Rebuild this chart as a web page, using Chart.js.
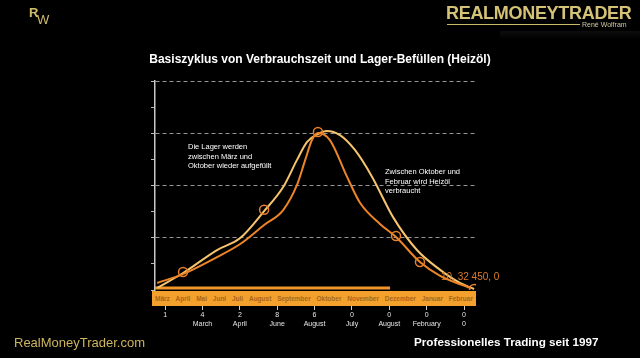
<!DOCTYPE html>
<html><head><meta charset="utf-8">
<script src="https://cdn.jsdelivr.net/npm/chart.js@4.4.0/dist/chart.umd.min.js"></script>
<style>
html,body{margin:0;padding:0;background:#000;}
#wrap{position:relative;width:640px;height:358px;background:#000;overflow:hidden;font-family:"Liberation Sans",Arial,sans-serif;}
canvas{position:absolute;left:0;top:0;}
.abs{position:absolute;white-space:nowrap;}
#band{position:absolute;left:152px;top:291px;width:324px;height:15px;background:#f3a02c;display:flex;justify-content:space-between;align-items:center;padding:0 3px;box-sizing:border-box;font-weight:bold;font-size:6.5px;color:#a9671b;}
</style></head><body>
<div id="wrap">
<canvas id="c" width="640" height="358"></canvas>
<div class="abs" style="left:0;top:52px;width:640px;text-align:center;color:#fff;font-weight:bold;font-size:12px;">Basiszyklus von Verbrauchszeit und Lager-Befüllen (Heizöl)</div>
<div class="abs" style="left:29px;top:5px;color:#d2bd6a;font-size:13px;font-weight:bold;">R</div>
<div class="abs" style="left:37px;top:12px;color:#d2bd6a;font-size:13px;">W</div>
<div class="abs" style="left:446px;top:3px;color:#d4c276;font-weight:bold;font-size:18px;letter-spacing:-0.3px;">REALMONEYTRADER</div>
<div class="abs" style="left:447px;top:24px;width:133px;height:1px;background:#cdb868;"></div>
<div class="abs" style="left:582px;top:21px;color:#cfc7a0;font-size:7px;">René Wolfram</div>
<div class="abs" style="left:500px;top:31px;width:140px;height:8px;background:linear-gradient(#0d0d0d,#000);"></div>
<div class="abs" style="left:188px;top:142px;color:#fff;font-size:7.5px;line-height:9.5px;">Die Lager werden<br>zwischen März und<br>Oktober wieder aufgefüllt</div>
<div class="abs" style="left:385px;top:167px;color:#fff;font-size:7.5px;line-height:9.5px;">Zwischen Oktober und<br>Februar wird Heizöl<br>verbraucht</div>
<div class="abs" style="left:441px;top:271px;width:58px;overflow:hidden;color:#dd7c2c;font-size:10px;">10, 32 450, 00</div>
<div id="band"></div>
<div class="abs" style="left:14px;top:335px;color:#cdb45e;font-size:13px;">RealMoneyTrader.com</div>
<div class="abs" style="left:414px;top:335px;color:#fff;font-weight:bold;font-size:11.7px;">Professionelles Trading seit 1997</div>
</div>
<script>
// ---- data ----
const bandMonths = ['März','April','Mai','Juni','Juli','August','September','Oktober','November','Dezember','Januar','Februar'];
const xTickNumbers = ['1','4','2','8','6','0','0','0','0'];
const xTickMonths = ['','March','April','June','August','July','August','February','0'];

const lightX = [-0.21, 0.48, 1.39, 2.01, 2.65, 3.16, 3.53, 3.80, 4.09, 4.33, 4.68, 5.08, 5.54, 6.10, 6.74, 7.36, 7.89, 8.27];
const lightY = [0.08, 0.65, 1.53, 1.99, 3.02, 3.94, 4.98, 5.67, 5.97, 6.09, 5.93, 5.36, 4.33, 2.79, 1.53, 0.77, 0.27, 0.04];

const darkX = [-0.21, 0.48, 1.39, 2.01, 2.65, 3.16, 3.53, 3.75, 3.93, 4.09, 4.41, 4.87, 5.22, 5.75, 6.18, 6.82, 7.36, 8.16];
const darkY = [0.27, 0.61, 1.26, 1.76, 2.49, 3.06, 4.02, 4.98, 5.74, 6.01, 5.74, 4.33, 3.33, 2.53, 2.03, 1.07, 0.54, 0.08];

const markerX = [0.48, 2.65, 4.09, 6.18, 6.82, 8.27];
const markerY = [0.69, 3.07, 6.05, 2.07, 1.07, 0.04];

const baseX = [-0.27, 6.02];
const baseY = [0.08, 0.08];

// ---- build ----
const pts = (xs, ys) => xs.map((x, i) => ({x: x, y: ys[i]}));
const band = document.getElementById('band');
bandMonths.forEach(m => { const s = document.createElement('span'); s.textContent = m; band.appendChild(s); });

const FONT = '"Liberation Sans", Arial, sans-serif';
new Chart(document.getElementById('c'), {
  type: 'line',
  data: {
    datasets: [
      {label: 'Punkte', data: pts(markerX, markerY), showLine: false, pointRadius: 4.5, pointBorderColor: '#e8802a', pointBackgroundColor: 'rgba(0,0,0,0)', pointBorderWidth: 1.5, order: 0},
      {label: 'Verbrauch', data: pts(darkX, darkY), borderColor: '#ec8428', borderWidth: 2, pointRadius: 0, cubicInterpolationMode: 'monotone', fill: false, order: 1},
      {label: 'Lager', data: pts(lightX, lightY), borderColor: '#f7c46e', borderWidth: 2, pointRadius: 0, cubicInterpolationMode: 'monotone', fill: false, order: 2},
      {label: 'Basis', data: pts(baseX, baseY), borderColor: '#f0952a', borderWidth: 3, pointRadius: 0, fill: false, order: 3}
    ]
  },
  options: {
    responsive: false,
    animation: false,
    layout: {padding: {left: 151, right: 164, top: 81, bottom: 22}},
    plugins: {legend: {display: false}, tooltip: {enabled: false}, title: {display: false}},
    scales: {
      x: {
        type: 'linear', position: 'bottom', min: -0.27, max: 8.32, weight: 1,
        afterBuildTicks: s => { s.ticks = xTickNumbers.map((_, i) => ({value: i})); },
        ticks: {color: '#e6e6e6', font: {size: 7, family: FONT, lineHeight: 1.35}, padding: 0, maxRotation: 0, autoSkip: false,
          callback: (v, i) => [xTickNumbers[i], xTickMonths[i]]},
        grid: {drawOnChartArea: false, drawTicks: true, tickLength: 4, tickColor: '#cfcfcf', color: '#cfcfcf'},
        border: {display: false},
        afterFit: s => { s.height = 30; }
      },
      band: {
        type: 'linear', position: 'bottom', min: 0, max: 1, weight: 0,
        ticks: {display: false}, grid: {display: false}, border: {display: false},
        afterFit: s => { s.height = 16; }
      },
      y: {
        min: 0, max: 8,
        ticks: {display: false, stepSize: 1},
        grid: {
          color: c => (c.tick && c.tick.value > 0 && c.tick.value % 2 === 0) ? 'rgba(200,200,200,0.75)' : 'rgba(0,0,0,0)',
          lineWidth: 1, drawTicks: true, tickLength: 4, tickColor: '#bdbdbd'
        },
        border: {display: true, color: '#c8c8c8', width: 1.5, dash: [4, 3]}
      }
    }
  }
});
</script>
</body></html>
